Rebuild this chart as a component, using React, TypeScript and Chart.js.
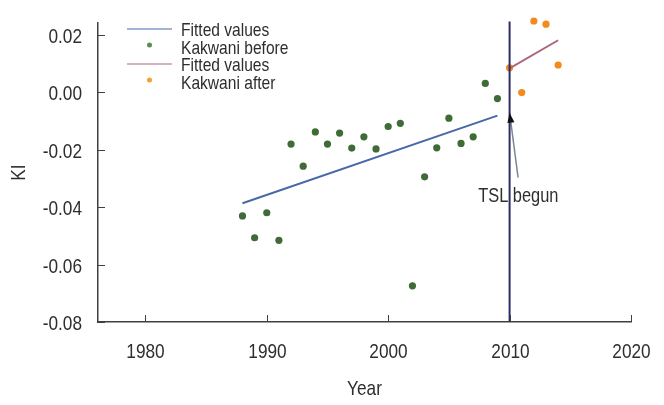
import React, { useEffect, useRef } from 'react';
import { Chart, registerables } from 'chart.js';

Chart.register(...registerables);

// ---- data ----
const yearsBefore = [1988, 1989, 1990, 1991, 1992, 1993, 1994, 1995, 1996, 1997, 1998, 1999, 2000, 2001, 2002, 2003, 2004, 2005, 2006, 2007, 2008, 2009];
const kakwaniBefore = [-0.0431, -0.0507, -0.042, -0.0516, -0.0181, -0.0258, -0.0139, -0.0181, -0.0143, -0.0195, -0.0156, -0.0198, -0.012, -0.0109, -0.0674, -0.0295, -0.0194, -0.0091, -0.0179, -0.0156, 0.003, -0.0023];
const yearsAfter = [2010, 2011, 2012, 2013, 2014];
const kakwaniAfter = [0.0084, -0.0002, 0.0247, 0.0236, 0.0094];
const fitBeforeYears = [1988, 2009];
const fitBeforeValues = [-0.0387, -0.0082];
const fitAfterYears = [2010, 2014];
const fitAfterValues = [0.0082, 0.018];
const tslYear = 2010;
const tslLineValues = [-0.08, 0.0245];
const arrowTail = [2010.7, -0.0298];
const arrowTip = [2010, -0.0072];
const annotationText = 'TSL begun';
const annotationPos = [2010.72, -0.0357];
const legendLabels = ['Fitted values', 'Kakwani before', 'Fitted values', 'Kakwani after'];
const xTicks = [1980, 1990, 2000, 2010, 2020];
const yTicks = [-0.08, -0.06, -0.04, -0.02, 0, 0.02];
const xRange = [1976.1, 2020];
const yRange = [-0.08, 0.024];
const xTitle = 'Year';
const yTitle = 'KI';

const FONT = "'Liberation Sans', Arial, sans-serif";
const NARROW = 0.82;
const TEXT = '#2e2e2e';
const AXIS = '#404040';

const toPts = (xs: number[], ys: number[]) => xs.map((x, i) => ({ x, y: ys[i] }));

function narrowText(
  ctx: CanvasRenderingContext2D,
  text: string,
  x: number,
  y: number,
  size: number,
  align: CanvasTextAlign,
  rotate = false
) {
  ctx.save();
  ctx.translate(x, y);
  if (rotate) ctx.rotate(-Math.PI / 2);
  ctx.scale(NARROW, 1);
  ctx.font = `${size}px ${FONT}`;
  ctx.fillStyle = TEXT;
  ctx.textAlign = align;
  ctx.textBaseline = 'alphabetic';
  ctx.fillText(text, 0, 0);
  ctx.restore();
}

const overlay = {
  id: 'overlay',
  afterDraw(chart: any) {
    const { ctx } = chart;
    const x = chart.scales.x;
    const y = chart.scales.y;
    ctx.save();
    // inward tick marks + tick labels
    ctx.strokeStyle = AXIS;
    ctx.lineWidth = 1;
    x.ticks.forEach((t: any) => {
      const px = Math.round(x.getPixelForValue(t.value)) + 0.5;
      ctx.beginPath();
      ctx.moveTo(px, y.bottom);
      ctx.lineTo(px, y.bottom - 7);
      ctx.stroke();
      narrowText(ctx, String(t.value), px, y.bottom + 36, 21, 'center');
    });
    y.ticks.forEach((t: any) => {
      const py = Math.round(y.getPixelForValue(t.value)) + 0.5;
      ctx.beginPath();
      ctx.moveTo(x.left, py);
      ctx.lineTo(x.left + 7, py);
      ctx.stroke();
      narrowText(ctx, Number(t.value).toFixed(2), x.left - 16, py + 7.5, 21, 'right');
    });
    // axis titles
    narrowText(ctx, xTitle, (x.left + x.right) / 2, 395, 21, 'center');
    narrowText(ctx, yTitle, 25, (y.top + y.bottom) / 2, 21, 'center', true);
    // arrow head
    const tx = x.getPixelForValue(arrowTip[0]);
    const ty = y.getPixelForValue(arrowTip[1]);
    const sx = x.getPixelForValue(arrowTail[0]);
    const sy = y.getPixelForValue(arrowTail[1]);
    const len = Math.hypot(tx - sx, ty - sy);
    const dx = (tx - sx) / len;
    const dy = (ty - sy) / len;
    const hl = 10;
    const hw = 3.5;
    ctx.fillStyle = '#111';
    ctx.beginPath();
    ctx.moveTo(tx, ty);
    ctx.lineTo(tx - dx * hl - dy * hw, ty - dy * hl + dx * hw);
    ctx.lineTo(tx - dx * hl + dy * hw, ty - dy * hl - dx * hw);
    ctx.closePath();
    ctx.fill();
    // annotation text
    narrowText(ctx, annotationText, x.getPixelForValue(annotationPos[0]), y.getPixelForValue(annotationPos[1]) + 7, 20, 'center');
    // legend
    const lx0 = 127;
    const lx1 = 172;
    const tx0 = 181;
    const rows = [29, 46.5, 64, 81.5];
    const kinds = [
      { type: 'line', color: '#7f9cc4' },
      { type: 'dot', color: '#5f8a58' },
      { type: 'line', color: '#c99aa6' },
      { type: 'dot', color: '#f4a033' },
    ];
    rows.forEach((ry, i) => {
      const k = kinds[i];
      if (k.type === 'line') {
        ctx.strokeStyle = k.color;
        ctx.lineWidth = 1.5;
        ctx.beginPath();
        ctx.moveTo(lx0, ry);
        ctx.lineTo(lx1, ry);
        ctx.stroke();
      } else {
        ctx.fillStyle = k.color;
        ctx.beginPath();
        ctx.arc((lx0 + lx1) / 2, ry - 1.5, 2.5, 0, Math.PI * 2);
        ctx.fill();
      }
      narrowText(ctx, legendLabels[i], tx0, ry + 7, 19, 'left');
    });
    ctx.restore();
  },
};

export default function App() {
  const ref = useRef<HTMLCanvasElement | null>(null);
  useEffect(() => {
    if (!ref.current) return;
    const chart = new Chart(ref.current, {
      type: 'scatter',
      data: {
        datasets: [
          {
            label: 'TSL',
            data: toPts([tslYear, tslYear], tslLineValues),
            showLine: true,
            borderColor: '#2c2c66',
            borderWidth: 2,
            pointRadius: 0,
            clip: false,
          } as any,
          {
            label: 'arrow',
            data: [{ x: arrowTail[0], y: arrowTail[1] }, { x: arrowTip[0], y: arrowTip[1] }],
            showLine: true,
            borderColor: '#7d8698',
            borderWidth: 1.5,
            pointRadius: 0,
            clip: false,
          },
          {
            label: legendLabels[0],
            data: toPts(fitBeforeYears, fitBeforeValues),
            showLine: true,
            borderColor: '#4a68a8',
            borderWidth: 2,
            pointRadius: 0,
            clip: false,
          },
          {
            label: legendLabels[1],
            data: toPts(yearsBefore, kakwaniBefore),
            backgroundColor: '#3f6b37',
            borderWidth: 0,
            pointRadius: 3.6,
            clip: false,
          },
          {
            label: legendLabels[2],
            data: toPts(fitAfterYears, fitAfterValues),
            showLine: true,
            borderColor: '#ae6680',
            borderWidth: 2,
            pointRadius: 0,
            clip: false,
          },
          {
            label: legendLabels[3],
            data: toPts(yearsAfter, kakwaniAfter),
            backgroundColor: '#f28a1c',
            borderWidth: 0,
            pointRadius: 3.6,
            clip: false,
          },
        ],
      },
      options: {
        animation: false,
        responsive: false,
        devicePixelRatio: 1,
        layout: { padding: { top: 23, right: 33, left: 0, bottom: 0 } },
        plugins: { legend: { display: false }, tooltip: { enabled: false } },
        scales: {
          x: {
            type: 'linear',
            min: xRange[0],
            max: xRange[1],
            afterBuildTicks: (s: any) => {
              s.ticks = xTicks.map((v) => ({ value: v }));
            },
            afterFit: (s: any) => {
              s.height = 83;
              s.paddingLeft = 0;
              s.paddingRight = 0;
            },
            grid: { display: true, drawOnChartArea: false, drawTicks: false },
            border: { display: true, color: AXIS, width: 1.5 },
            ticks: { display: false },
            title: { display: false },
          },
          y: {
            type: 'linear',
            min: yRange[0],
            max: yRange[1],
            afterBuildTicks: (s: any) => {
              s.ticks = yTicks.map((v) => ({ value: v }));
            },
            afterFit: (s: any) => {
              s.width = 98;
              s.paddingTop = 0;
              s.paddingBottom = 0;
            },
            grid: { display: true, drawOnChartArea: false, drawTicks: false },
            border: { display: true, color: AXIS, width: 1.5 },
            ticks: { display: false },
            title: { display: false },
          },
        },
      },
      plugins: [overlay],
    });
    return () => chart.destroy();
  }, []);
  return (
    <div style={{ position: 'absolute', left: 0, top: 0, width: 664, height: 405, background: '#fff' }}>
      <canvas ref={ref} width={664} height={405} />
    </div>
  );
}
